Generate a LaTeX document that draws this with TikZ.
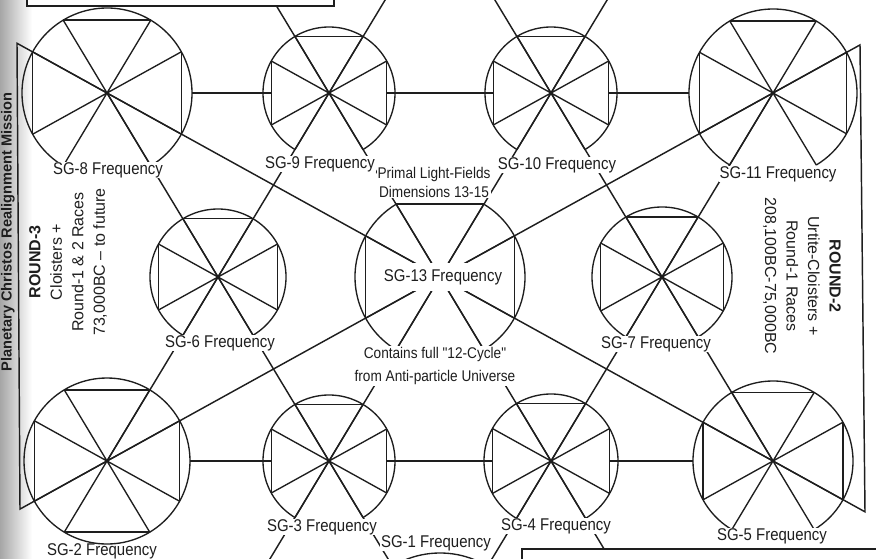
\documentclass[tikz,border=0pt]{standalone}
\usepackage{fontspec}
\setmainfont{Liberation Sans}
\newfontfamily\narrowfont[FakeStretch=0.88]{Liberation Sans}
\usetikzlibrary{calc}
\definecolor{ink}{HTML}{1E1E1E}

% #1 centre name, #2 radius, #3 mode (0 open bottom, 1 full + bottom chord, 2 open top and bottom)
\newcommand\sgring[3]{%
  \ifcase#3
    \draw[sgline] (#1) ++(121:#2) arc[start angle=121,end angle=419,radius=#2];
  \or
    \draw[sgline] (#1) circle[radius=#2];
    \draw[sgline] (#1) +(59:#2) -- +(121:#2);
  \or
    \draw[sgline] (#1) ++(121:#2) arc[start angle=121,end angle=239,radius=#2];
    \draw[sgline] (#1) ++(-59:#2) arc[start angle=-59,end angle=59,radius=#2];
  \fi
  \draw[sgline] (#1) +(29:#2) -- +(209:#2)
                (#1) +(-29:#2) -- +(151:#2)
                (#1) +(59:#2) -- +(239:#2)
                (#1) +(121:#2) -- +(-59:#2);
  \draw[sgline] (#1) +(-29:#2) -- +(29:#2)
                (#1) +(151:#2) -- +(209:#2)
                (#1) +(-121:#2) -- +(-59:#2);
}

\begin{document}
\begin{tikzpicture}[x=1pt,y=-1pt,
  sgline/.style={draw=ink, line width=1.35pt},
  latline/.style={draw=ink, line width=1.45pt},
  boxline/.style={draw=ink, line width=2.2pt, fill=white},
  lab/.style={font=\narrowfont\fontsize{17}{18}\selectfont, text=ink, fill=white, inner xsep=1pt, inner ysep=0pt},
  note/.style={font=\narrowfont\fontsize{15.5}{19}\selectfont, text=ink, fill=white, align=center, inner sep=1pt},
  side/.style={font=\fontsize{16}{21.5}\selectfont, text=ink, align=center}]

\clip (0,0) rectangle (876,558);
\fill[white] (0,0) rectangle (876,558);
\shade[left color=black!35, right color=white] (0,0) rectangle (32,558);

% lattice centres
\coordinate (sg8)  at (107,93);
\coordinate (sg9)  at (329,93);
\coordinate (sg10) at (551,93);
\coordinate (sg11) at (773,93);
\coordinate (sg6)  at (218,277);
\coordinate (sg13) at (440,277);
\coordinate (sg7)  at (662,277);
\coordinate (sg2)  at (107,461);
\coordinate (sg3)  at (329,461);
\coordinate (sg4)  at (551,461);
\coordinate (sg5)  at (773,461);
\coordinate (sg1)  at (440,645);
\coordinate (sg12) at (440,-91);
\coordinate (pTL)  at (218,-91);
\coordinate (pTR)  at (662,-91);
\coordinate (pBL)  at (218,645);
\coordinate (pBR)  at (662,645);
\coordinate (pL1)  at (17,43.27);
\coordinate (pL2)  at (20,509.07);
\coordinate (pR1)  at (860,44.93);
\coordinate (pR2)  at (865,511.83);

% steep lattice lines
\draw[latline] (pTL) -- (sg9) -- (sg13) -- (sg4) -- (pBR);
\draw[latline] (sg12) -- (sg9) -- (sg6) -- (sg2);
\draw[latline] (sg12) -- (sg10) -- (sg13) -- (sg3) -- (pBL);
\draw[latline] (pTR) -- (sg10) -- (sg7) -- (sg5);
\draw[latline] (sg8) -- (sg6) -- (sg3) -- (sg1);
\draw[latline] (sg11) -- (sg7) -- (sg4) -- (sg1);
% big bow-tie frame
\draw[latline] (pL1) -- (sg8) -- (sg13) -- (sg5) -- (pR2) -- (pR1) -- (sg11) -- (sg13) -- (sg2) -- (pL2) -- cycle;

% horizontal connectors
\draw[sgline] ($(sg8)+(85,0)$) -- ($(sg9)+(-57.7,0)$);
\draw[sgline] ($(sg9)+(57.7,0)$) -- ($(sg10)+(-57.7,0)$);
\draw[sgline] ($(sg10)+(57.7,0)$) -- ($(sg11)+(-84,0)$);
\draw[sgline] ($(sg2)+(83,0)$) -- ($(sg3)+(-57.7,0)$);
\draw[sgline] ($(sg3)+(57.7,0)$) -- ($(sg4)+(-58.6,0)$);
\draw[sgline] ($(sg4)+(58.6,0)$) -- ($(sg5)+(-80,0)$);

% frequency rings
\sgring{sg8}{85}{0}
\sgring{sg9}{66}{0}
\sgring{sg10}{66}{0}
\sgring{sg11}{84}{0}
\sgring{sg6}{68}{0}
\sgring{sg13}{85}{2}
\sgring{sg7}{70}{0}
\sgring{sg2}{83}{1}
\sgring{sg3}{66}{0}
\sgring{sg4}{67}{0}
\sgring{sg5}{80}{0}
\sgring{sg1}{92}{0}

% boxes at the edges
\draw[boxline] (27,-10) rectangle (334,6);
\draw[boxline] (522,575) -- (522,549) -- (885,549) -- (885,575);

% labels
\node[lab] (l8)  at (108,170) {SG-8 Frequency};
\node[lab] (l9)  at (320,164) {SG-9 Frequency};
\node[lab] (l10) at (557,165) {SG-10 Frequency};
\node[lab] (l11) at (778,174) {SG-11 Frequency};
\node[note] (lp) at (434,182) {Primal Light-Fields\\Dimensions 13-15};
\node[lab, inner ysep=6pt] (l13) at (443,277) {SG-13 Frequency};
\node[note, font=\narrowfont\fontsize{15.5}{23}\selectfont] (lc) at (435,366) {Contains full "12-Cycle"\\from Anti-particle Universe};
\node[lab] (l6)  at (220,343) {SG-6 Frequency};
\node[lab] (l7)  at (656,344) {SG-7 Frequency};
\node[lab, fill=none] (l2) at (102,551.5) {SG-2 Frequency};
\node[lab] (l3)  at (322,527) {SG-3 Frequency};
\node[lab] (l1)  at (436,543) {SG-1 Frequency};
\node[lab] (l4)  at (556,526) {SG-4 Frequency};
\node[lab] (l5)  at (772,536) {SG-5 Frequency};

\node[side, rotate=90] (r3) at (68,262) {\textbf{ROUND-3}\\Cloisters +\\Round-1 \& 2 Races\\73,000BC -- to future};
\node[side, rotate=-90] (r2) at (802,276) {\textbf{ROUND-2}\\Urtite-Cloisters +\\Round-1 Races\\208,100BC-75,000BC};
\node[rotate=90, font=\bfseries\fontsize{14.6}{16}\selectfont, text=ink] (title) at (8,232) {Planetary Christos Realignment Mission};
\end{tikzpicture}
\end{document}
